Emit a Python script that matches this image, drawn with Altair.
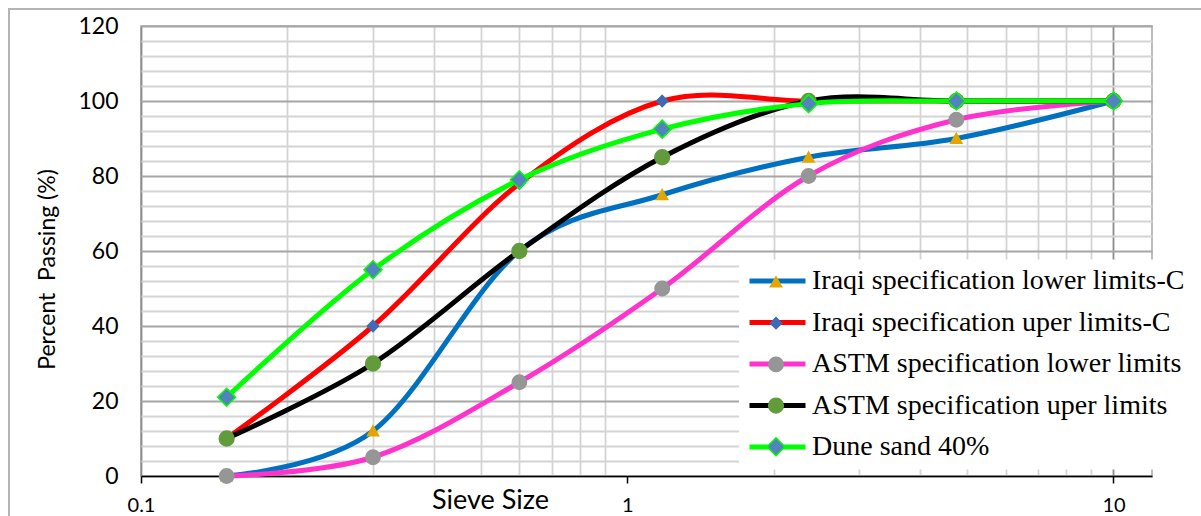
import altair as alt
import pandas as pd

# ---- data ----
sieve_sizes = [0.15, 0.3, 0.6, 1.18, 2.36, 4.75, 10]
series_names = [
    "Iraqi specification lower limits-C",
    "Iraqi specification uper limits-C",
    "ASTM specification lower limits",
    "ASTM specification uper limits",
    "Dune sand 40%",
]
marker_codes = ["m1", "m2", "m3", "m4", "m5"]
iraqi_lower = [0, 12, 60, 75, 85, 90, 100]
iraqi_upper = [10, 40, 78, 100, 100, 100, 100]
astm_lower = [0, 5, 25, 50, 80, 95, 100]
astm_upper = [10, 30, 60, 85, 100, 100, 100]
dune_sand = [21, 55, 79, 92.5, 99.3, 100, 100]
series_values = [iraqi_lower, iraqi_upper, astm_lower, astm_upper, dune_sand]

# ---- styles ----
line_colors = ["#0070C0", "#FF0000", "#FF33CC", "#000000", "#00FF00"]
marker_fills = ["#E3A600", "#4169B4", "#969696", "#629B3C", "#5383BE"]
marker_strokes = ["#E3A600", "#4169B4", "#969696", "#629B3C", "#00FF00"]
marker_shapes = [
    "M0,-0.58L0.62,0.52L-0.62,0.52Z",
    "M0,-0.62L0.62,0L0,0.62L-0.62,0Z",
    "M-0.8,0A0.8,0.8,0,1,0,0.8,0A0.8,0.8,0,1,0,-0.8,0Z",
    "M-0.82,0A0.82,0.82,0,1,0,0.82,0A0.82,0.82,0,1,0,-0.82,0Z",
    "M0,-1L1,0L0,1L-1,0Z",
]
x_grid_values = [0.1, 0.2, 0.3, 0.4, 0.5, 0.6, 0.7, 0.8, 0.9,
                 1, 2, 3, 4, 5, 6, 7, 8, 9, 10]
y_grid_values = list(range(0, 121, 4))

rows = []
for name, code, vals in zip(series_names, marker_codes, series_values):
    for s, v in zip(sieve_sizes, vals):
        rows.append({"sieve": s, "passing": v, "series": name, "marker": code})
df = pd.DataFrame(rows)

AXIS_FONT = "Lato"
LEG_FONT = "Liberation Serif"

x_enc = alt.X(
    "sieve:Q",
    scale=alt.Scale(type="log", domain=[0.1, 12], nice=False),
    axis=alt.Axis(
        values=x_grid_values,
        labelExpr="datum.value == 0.1 ? '0.1' : datum.value == 1 ? '1' : datum.value == 10 ? '10' : ''",
        labelFont=AXIS_FONT, labelFontSize=20, labelColor="black",
        labelPadding=12, labelFlush=False, labelOverlap=False,
        tickSize=7, tickWidth=1.5,
        tickColor={"condition": {"test": "datum.value == 0.1 || datum.value == 1 || datum.value == 10",
                                 "value": "black"}, "value": "transparent"},
        domainColor="black", domainWidth=1.5,
        grid=True, gridWidth=1.8,
        gridColor={"condition": [
            {"test": "datum.value == 1", "value": "#ffffff"},
            {"test": "datum.value == 10 || datum.value == 0.1", "value": "#8c8c8c"},
        ], "value": "#d4d4d4"},
        title="Sieve Size", titleFont=AXIS_FONT, titleFontSize=27, titleFontWeight="normal",
        titleColor="black", titleX=349, titleY=24, titleAlign="center", titleBaseline="middle",
    ),
)
y_enc = alt.Y(
    "passing:Q",
    scale=alt.Scale(domain=[0, 120], nice=False),
    axis=alt.Axis(
        values=y_grid_values,
        labelExpr="datum.value % 20 == 0 ? datum.label : ''",
        labelFont=AXIS_FONT, labelFontSize=23, labelColor="black",
        labelPadding=23, labelOverlap=False,
        ticks=False, domain=False,
        grid=True, gridWidth=1.8,
        gridColor={"condition": {"test": "datum.value % 20 == 0", "value": "#a6a6a6"},
                   "value": "#d4d4d4"},
        title="Percent\u00a0 Passing (%)", titleFont=AXIS_FONT, titleFontSize=23,
        titleFontWeight="normal", titleColor="black",
        titleX=-94, titleY=243, titleAngle=270, titleAlign="center", titleBaseline="middle",
    ),
)

line_legend = alt.Legend(
    title=None, orient="none", legendX=598, legendY=233.5, direction="vertical",
    symbolType="stroke", symbolSize=3136, symbolStrokeWidth=5, clipHeight=27,
    labelFont=LEG_FONT, labelFontSize=28, labelColor="black", labelLimit=600, labelOffset=4,
    rowPadding=12.5, padding=8, fillColor="white", zindex=1,
)
marker_legend = alt.Legend(
    title=None, orient="none", legendX=617, legendY=234.5, direction="vertical",
    symbolSize=324, symbolStrokeWidth=1.5, symbolOpacity=1, clipHeight=27,
    labelExpr="''", labelFontSize=10,
    rowPadding=14.2, padding=8, zindex=2,
)

border = alt.Chart(pd.DataFrame({"k": [0]})).mark_rect(
    fillOpacity=0, stroke="#b4b4b4", strokeWidth=2
).encode(x=alt.value(-132), x2=alt.value(1075), y=alt.value(-17), y2=alt.value(505))

lines = alt.Chart(df).mark_line(
    interpolate="cardinal", strokeWidth=5, strokeCap="round", strokeJoin="round"
).encode(
    x=x_enc, y=y_enc,
    color=alt.Color("series:N", scale=alt.Scale(domain=series_names, range=line_colors),
                    legend=line_legend),
    order=alt.Order("sieve:Q"),
)

points = alt.Chart(df).mark_point(filled=True, opacity=1, size=324, strokeWidth=1.5).encode(
    x=x_enc, y=y_enc,
    fill=alt.Fill("marker:N", scale=alt.Scale(domain=marker_codes, range=marker_fills),
                  legend=marker_legend),
    stroke=alt.Stroke("marker:N", scale=alt.Scale(domain=marker_codes, range=marker_strokes),
                      legend=marker_legend),
    shape=alt.Shape("marker:N", scale=alt.Scale(domain=marker_codes, range=marker_shapes),
                    legend=marker_legend),
)

chart = alt.layer(border, lines, points).properties(
    width=1011, height=450,
    autosize=alt.AutoSizeParams(type="none"),
    padding={"left": 141, "top": 26, "right": 49, "bottom": 40},
    background="white",
).configure_view(stroke="#a6a6a6", strokeWidth=1.5)

chart.save("out.html", embed_options={"renderer": "svg", "actions": False})
